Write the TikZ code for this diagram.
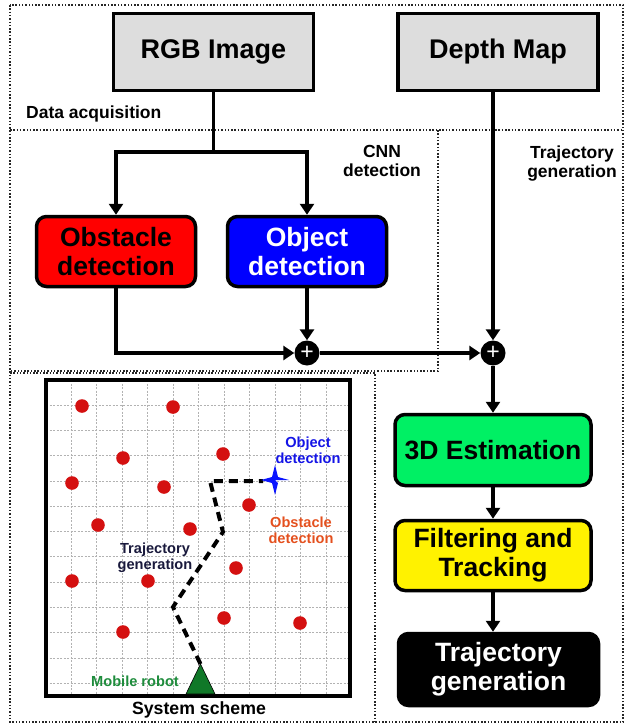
\documentclass[tikz,border=0pt]{standalone}
\usepackage{fontspec}
\setmainfont{Liberation Sans}
\usetikzlibrary{arrows.meta}
\definecolor{boxgray}{RGB}{221,221,221}
\definecolor{estgreen}{RGB}{0,240,100}
\definecolor{dotred}{RGB}{212,16,16}
\definecolor{robotgreen}{RGB}{16,120,40}
\definecolor{labgreen}{RGB}{30,140,60}
\definecolor{labblue}{RGB}{20,20,230}
\definecolor{laborange}{RGB}{228,80,30}
\definecolor{labnavy}{RGB}{25,25,60}
\definecolor{starblue}{RGB}{10,20,255}
\begin{document}
\begin{tikzpicture}[x=1pt,y=-1pt,
 frame/.style={draw=black!85, line width=1.1pt, dash pattern=on 1.5pt off 1.8pt},
 conn/.style={line width=3.5pt, -{Triangle[width=14pt,length=11pt]}},
 wire/.style={line width=3.5pt},
 sqbox/.style={draw, line width=3.5pt, fill=boxgray, minimum width=200pt, minimum height=77pt, inner sep=0pt, font=\fontsize{27}{29}\selectfont\bfseries},
 rbox/.style={draw, line width=3.5pt, rounded corners=10pt, align=center, inner sep=0pt, font=\fontsize{26.5}{29}\selectfont\bfseries},
 plusnode/.style={circle, fill=black, minimum size=25pt, inner sep=0pt, text=white, font=\fontsize{23}{23}\selectfont},
 lab/.style={align=center, inner sep=0pt, font=\fontsize{17.5}{19}\selectfont\bfseries},
 slab/.style={align=center, inner sep=0pt, font=\fontsize{14.6}{16}\selectfont\bfseries},
 gridline/.style={draw=black!30, line width=0.7pt, dash pattern=on 2pt off 1.5pt},
 reddot/.style={fill=dotred},
 pathdash/.style={line width=4pt, dash pattern=on 9pt off 6pt}]
\useasboundingbox (0,0) rectangle (626,723);

% dotted region frames
\draw[frame] (10,5) rectangle (623,722);
\draw[frame] (10,130) -- (623,130);
\draw[frame] (438,130) -- (438,371) -- (10,371);
\draw[frame] (10,373) -- (375,373) -- (375,722);

% region labels
\node[lab, anchor=base west] (lacq) at (26,118) {Data acquisition};
\node[lab] (lcnn) at (382,161) {CNN\\detection};
\node[lab] (ltraj) at (572,164) {Trajectory\\generation};

% boxes
\node[sqbox] (rgb) at (213.5,52) {RGB Image};
\node[sqbox] (depth) at (498,52) {Depth Map};
\node[rbox, fill=red, minimum width=159pt, minimum height=70pt] (obst) at (116,251.5) {Obstacle\\detection};
\node[rbox, fill=blue, text=white, minimum width=159pt, minimum height=70pt] (obj) at (307,251.5) {Object\\detection};
\node[plusnode] (p1) at (307,353) {+};
\node[plusnode] (p2) at (493,353) {+};
\node[rbox, fill=estgreen, minimum width=196pt, minimum height=71pt] (est) at (493,450) {3D Estimation};
\node[rbox, fill=yellow, minimum width=196pt, minimum height=70pt] (filt) at (493,555.5) {Filtering and\\Tracking};
\node[rbox, fill=black, text=white, minimum width=200pt, minimum height=72pt] (traj) at (498.5,669.5) {Trajectory\\generation};

% connectors
\coordinate (br) at (213.5,152);
\draw[wire] (rgb.south) -- (br);
\draw[conn] (br) -| (obst.north);
\draw[conn] (br) -| (obj.north);
\draw[conn] (obst.south) |- (p1);
\draw[conn] (obj.south) -- (p1);
\draw[conn] (p1) -- (p2);
\draw[conn] (depth.south -| p2) -- (p2);
\draw[conn] (p2) -- (est.north);
\draw[conn] (est.south) -- (filt.north);
\draw[conn] (filt.south) -- (filt.south |- traj.north);

% system scheme
\foreach \i in {0,...,10} \draw[gridline] ({71+25.5*\i},380) -- ({71+25.5*\i},696);
\foreach \j in {0,...,11} \draw[gridline] (46,{405+25.3*\j}) -- (350,{405+25.3*\j});
\draw[line width=4pt] (46,380) rectangle (350,696);
\foreach \px/\py in {82/406,173/407,123/458,223/454,72/483,164/487,249/505,98/525,190/529,236/568,72/581,148/581,224/618,300/623,123/632}
  \fill[reddot] (\px,\py) circle (6.8pt);
\coordinate (r0) at (200.5,664);
\coordinate (r1) at (173,607);
\coordinate (r2) at (223,532);
\coordinate (r3) at (210,481);
\coordinate (r4) at (263,481);
\draw[pathdash] (r0) -- (r1) -- (r2) -- (r3) -- (r4);
\fill[starblue] (275,480) -- (289,480) -- (278,477) -- (275,465) -- (272,477) -- (261,480) -- (272,483) -- (275,495) -- (278,483) -- cycle;
\filldraw[fill=robotgreen, draw=black, line width=0.6pt] (186,694) -- (215,694) -- (r0) -- cycle;

\node[slab, text=labblue] (sobj) at (308,450.3) {Object\\detection};
\node[slab, text=laborange] (sobs) at (301,530) {Obstacle\\detection};
\node[slab, text=labnavy] (straj) at (155,557.5) {Trajectory\\generation};
\node[slab, text=labgreen, anchor=base] (srob) at (135,686) {Mobile robot};
\node[lab, font=\fontsize{17.7}{19}\selectfont\bfseries, anchor=base] (ssys) at (199,714) {System scheme};
\end{tikzpicture}
\end{document}
